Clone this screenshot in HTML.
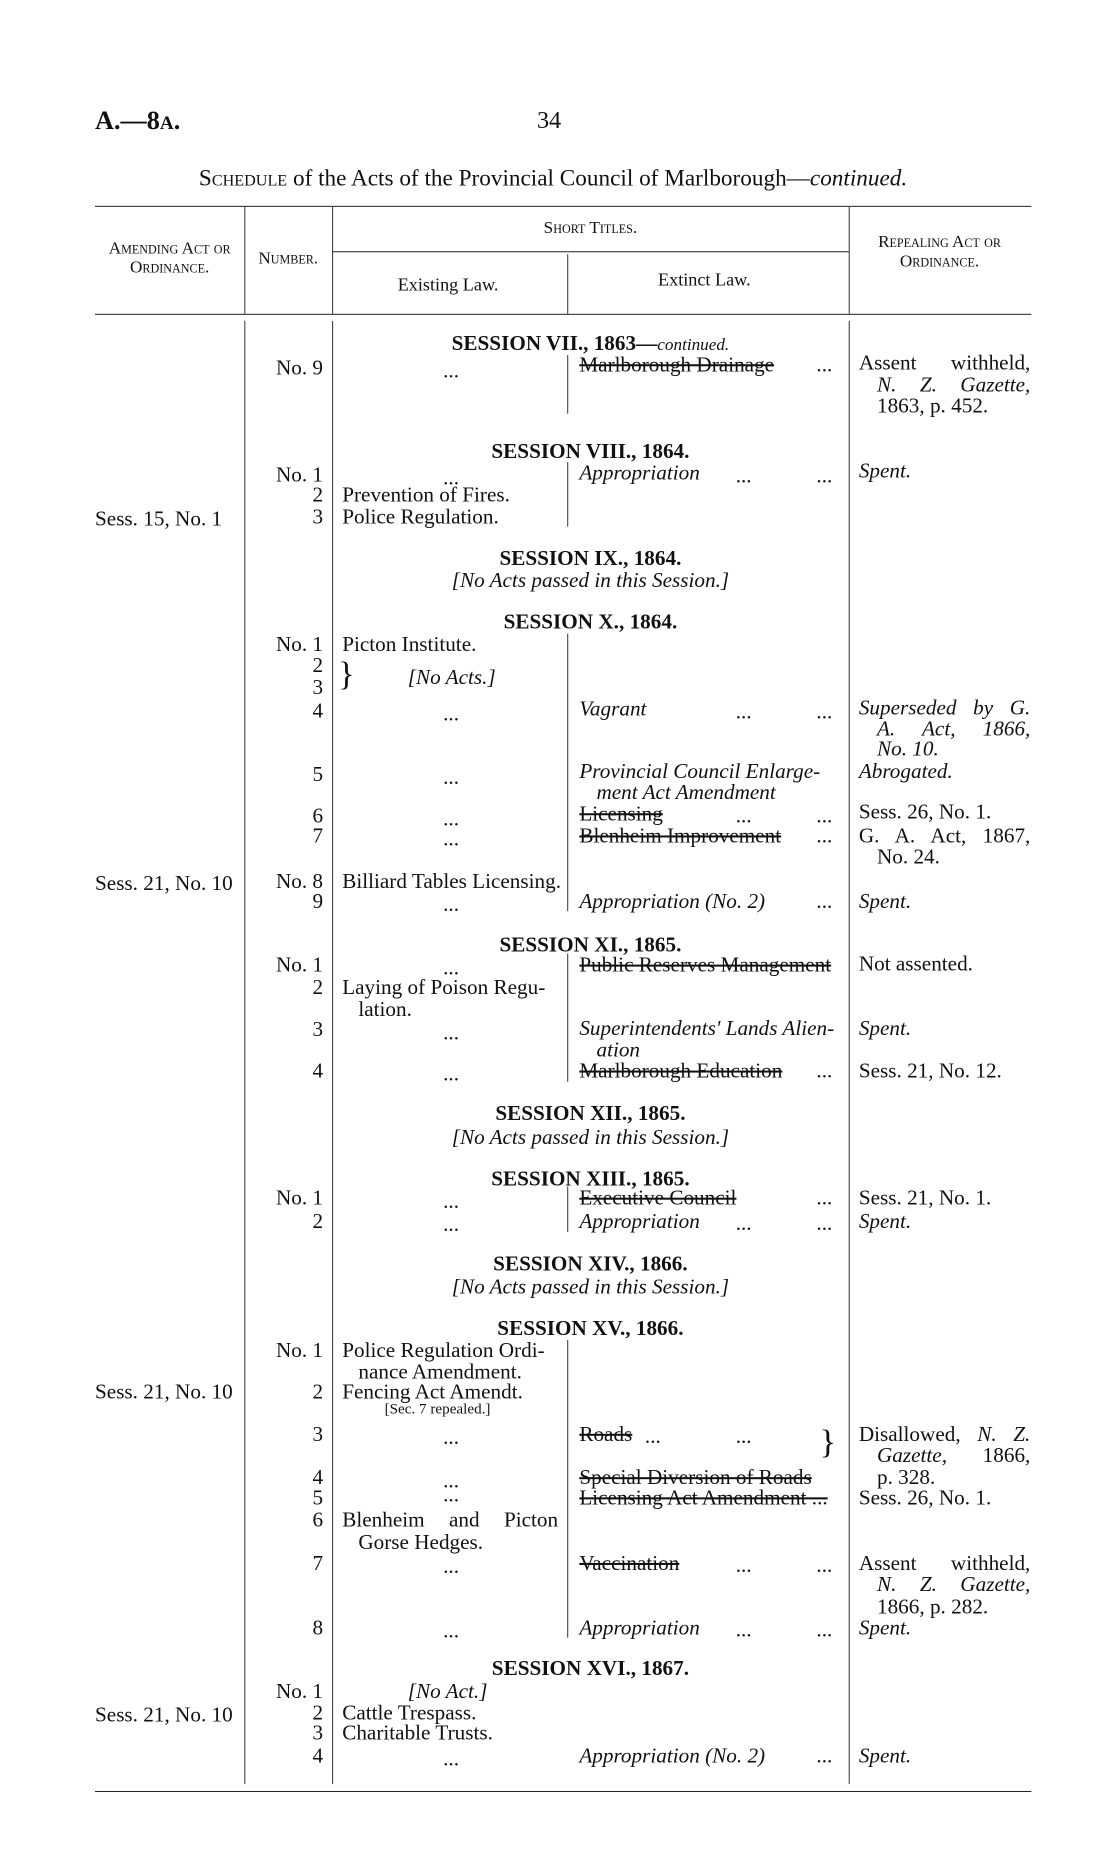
<!DOCTYPE html>
<html><head><meta charset="utf-8"><style>
body{margin:0;background:#fff;}
#w{position:relative;width:1114px;height:1875px;overflow:hidden}
#p{position:absolute;left:0;top:0;width:1114px;height:1875px;font-family:"Liberation Serif",serif;color:#111;font-size:21px;transform:scale(1.009);transform-origin:95px 0}
#p div{position:absolute;white-space:nowrap;line-height:22px}
.h{height:0;border-top:1.5px solid #222}
.v{width:0;border-left:1px solid #333}
.n{right:793px;text-align:right}
.e{left:340px}
.x{left:575px}
.r{left:852px}
.i{font-style:italic}
.s{text-decoration:line-through}
.b{font-weight:bold;left:330px;width:512px;text-align:center}
.c{left:330px;width:512px;text-align:center;font-style:italic}
.sc{font-variant:small-caps;font-size:17px;text-align:center;line-height:19px!important}
.d1{left:440px}
.d2{left:810px}
.dm{left:730px}
.j{width:170px;text-align:justify;text-align-last:justify}
</style></head><body><div id="w"><div id="p">
<div style="left:95px;top:109px;font-size:26px;font-weight:bold">A.—8<span style="font-size:19px">A</span>.</div>
<div style="left:533px;top:109px;font-size:24px">34</div>
<div style="left:198px;top:166px;font-size:23px"><span style="font-variant:small-caps">Schedule</span> of the Acts of the Provincial Council of Marlborough—<i>continued.</i></div>
<div class="h" style="left:95px;top:204px;width:928px"></div>
<div class="h" style="left:330px;top:249px;width:512px;border-top-width:1px"></div>
<div class="h" style="left:95px;top:311px;width:928px"></div>
<div class="h" style="left:95px;top:1775px;width:928px"></div>
<div class="v" style="left:243px;top:205px;height:106px"></div>
<div class="v" style="left:330px;top:205px;height:106px"></div>
<div class="v" style="left:842px;top:205px;height:106px"></div>
<div class="v" style="left:563px;top:252px;height:59px"></div>
<div class="v" style="left:243px;top:318px;height:1450px"></div>
<div class="v" style="left:330px;top:318px;height:1450px"></div>
<div class="v" style="left:842px;top:318px;height:1450px"></div>
<div class="v" style="left:563px;top:352px;height:58px"></div>
<div class="v" style="left:563px;top:458px;height:64px"></div>
<div class="v" style="left:563px;top:628px;height:275px"></div>
<div class="v" style="left:563px;top:945px;height:127px"></div>
<div class="v" style="left:563px;top:1176px;height:45px"></div>
<div class="v" style="left:563px;top:1328px;height:295px"></div>
<div class="sc" style="left:95px;top:236px;width:148px">Amending Act or<br>Ordinance.</div>
<div class="sc" style="left:243px;top:246px;width:87px">Number.</div>
<div class="sc" style="left:330px;top:216px;width:512px">Short Titles.</div>
<div class="sc" style="left:842px;top:230px;width:180px">Repealing Act or<br>Ordinance.</div>
<div style="left:395px;top:271px;font-size:18px">Existing Law.</div>
<div style="left:653px;top:266px;font-size:18px">Extinct Law.</div>

<div class="b" style="top:329px">SESSION VII., 1863—<i style="font-weight:normal;font-size:17px">continued.</i></div>
<div class="n" style="top:353px">No. 9</div><div class="d1" style="top:356px">...</div>
<div class="x s" style="top:350px">Marlborough Drainage</div><div class="d2" style="top:350px">...</div>
<div class="r j" style="top:348px">Assent withheld,</div>
<div class="r i j" style="top:370px;left:870px;width:152px">N. Z. Gazette,</div>
<div class="r" style="top:391px;left:870px">1863, p. 452.</div>

<div class="b" style="top:436px">SESSION VIII., 1864.</div>
<div class="n" style="top:459px">No. 1</div><div class="d1" style="top:462px">...</div>
<div class="x i" style="top:457px">Appropriation</div><div class="dm" style="top:460px">...</div><div class="d2" style="top:460px">...</div>
<div class="r i" style="top:455px">Spent.</div>
<div class="n" style="top:479px">2</div><div class="e" style="top:479px">Prevention of Fires.</div>
<div class="n" style="top:501px">3</div><div class="e" style="top:501px">Police Regulation.</div>
<div style="left:95px;top:503px">Sess. 15, No. 1</div>

<div class="b" style="top:542px">SESSION IX., 1864.</div>
<div class="c" style="top:564px">[No Acts passed in this Session.]</div>

<div class="b" style="top:605px">SESSION X., 1864.</div>
<div class="n" style="top:627px">No. 1</div><div class="e" style="top:627px">Picton Institute.</div>
<div class="n" style="top:648px">2</div><div class="n" style="top:670px">3</div>
<div style="left:336px;top:647px;font-size:34px;line-height:44px">}</div>
<div class="e i" style="left:405px;top:660px">[No Acts.]</div>
<div class="n" style="top:693px">4</div><div class="d1" style="top:696px">...</div>
<div class="x i" style="top:691px">Vagrant</div><div class="dm" style="top:694px">...</div><div class="d2" style="top:694px">...</div>
<div class="r i j" style="top:690px">Superseded by G.</div>
<div class="r i j" style="top:711px;left:870px;width:152px">A. Act, 1866,</div>
<div class="r i" style="top:731px;left:870px">No. 10.</div>
<div class="n" style="top:756px">5</div><div class="d1" style="top:759px">...</div>
<div class="x i" style="top:753px">Provincial Council Enlarge-</div>
<div class="x i" style="top:774px;left:592px">ment Act Amendment</div>
<div class="r i" style="top:753px">Abrogated.</div>
<div class="n" style="top:797px">6</div><div class="d1" style="top:800px">...</div>
<div class="x s" style="top:795px">Licensing</div><div class="dm" style="top:797px">...</div><div class="d2" style="top:797px">...</div>
<div class="r" style="top:793px">Sess. 26, No. 1.</div>
<div class="n" style="top:817px">7</div><div class="d1" style="top:820px">...</div>
<div class="x s" style="top:817px">Blenheim Improvement</div><div class="d2" style="top:817px">...</div>
<div class="r j" style="top:817px">G. A. Act, 1867,</div>
<div class="r" style="top:838px;left:870px">No. 24.</div>
<div class="n" style="top:862px">No. 8</div><div class="e" style="top:862px">Billiard Tables Licensing.</div>
<div style="left:95px;top:864px">Sess. 21, No. 10</div>
<div class="n" style="top:882px">9</div><div class="d1" style="top:885px">...</div>
<div class="x i" style="top:882px">Appropriation (No. 2)</div><div class="d2" style="top:882px">...</div>
<div class="r i" style="top:882px">Spent.</div>

<div class="b" style="top:925px">SESSION XI., 1865.</div>
<div class="n" style="top:945px">No. 1</div><div class="d1" style="top:948px">...</div>
<div class="x s" style="top:945px">Public Reserves Management</div>
<div class="r" style="top:944px">Not assented.</div>
<div class="n" style="top:967px">2</div><div class="e" style="top:967px">Laying of Poison Regu-</div>
<div class="e" style="top:989px;left:356px">lation.</div>
<div class="n" style="top:1009px">3</div><div class="d1" style="top:1012px">...</div>
<div class="x i" style="top:1008px">Superintendents' Lands Alien-</div>
<div class="x i" style="top:1029px;left:592px">ation</div>
<div class="r i" style="top:1008px">Spent.</div>
<div class="n" style="top:1050px">4</div><div class="d1" style="top:1053px">...</div>
<div class="x s" style="top:1050px">Marlborough Education</div><div class="d2" style="top:1050px">...</div>
<div class="r" style="top:1050px">Sess. 21, No. 12.</div>

<div class="b" style="top:1092px">SESSION XII., 1865.</div>
<div class="c" style="top:1116px">[No Acts passed in this Session.]</div>

<div class="b" style="top:1157px">SESSION XIII., 1865.</div>
<div class="n" style="top:1176px">No. 1</div><div class="d1" style="top:1179px">...</div>
<div class="x s" style="top:1176px">Executive Council</div><div class="d2" style="top:1176px">...</div>
<div class="r" style="top:1176px">Sess. 21, No. 1.</div>
<div class="n" style="top:1199px">2</div><div class="d1" style="top:1202px">...</div>
<div class="x i" style="top:1199px">Appropriation</div><div class="dm" style="top:1201px">...</div><div class="d2" style="top:1201px">...</div>
<div class="r i" style="top:1199px">Spent.</div>

<div class="b" style="top:1241px">SESSION XIV., 1866.</div>
<div class="c" style="top:1264px">[No Acts passed in this Session.]</div>

<div class="b" style="top:1305px">SESSION XV., 1866.</div>
<div class="n" style="top:1327px">No. 1</div><div class="e" style="top:1327px">Police Regulation Ordi-</div>
<div class="e" style="top:1348px;left:356px">nance Amendment.</div>
<div class="n" style="top:1368px">2</div><div class="e" style="top:1368px">Fencing Act Amendt.</div>
<div style="left:95px;top:1368px">Sess. 21, No. 10</div>
<div style="left:382px;top:1389px;font-size:15px;line-height:16px">[Sec. 7 repealed.]</div>
<div class="n" style="top:1410px">3</div><div class="d1" style="top:1413px">...</div>
<div class="x s" style="top:1410px">Roads</div><div style="left:640px;top:1412px">...</div><div class="dm" style="top:1412px">...</div>
<div style="left:813px;top:1408px;font-size:34px;line-height:44px">}</div>
<div class="r j" style="top:1410px">Disallowed, <i>N. Z.</i></div>
<div class="r i j" style="top:1431px;left:870px;width:152px">Gazette, <span style="font-style:normal">1866,</span></div>
<div class="r" style="top:1453px;left:870px">p. 328.</div>
<div class="n" style="top:1453px">4</div><div class="d1" style="top:1456px">...</div>
<div class="x s" style="top:1453px">Special Diversion of Roads</div>
<div class="n" style="top:1473px">5</div><div class="d1" style="top:1470px">...</div>
<div class="x s" style="top:1473px">Licensing Act Amendment ...</div>
<div class="r" style="top:1473px">Sess. 26, No. 1.</div>
<div class="n" style="top:1495px">6</div><div class="e j" style="top:1495px;width:214px">Blenheim and Picton</div>
<div class="e" style="top:1517px;left:356px">Gorse Hedges.</div>
<div class="n" style="top:1538px">7</div><div class="d1" style="top:1541px">...</div>
<div class="x s" style="top:1538px">Vaccination</div><div class="dm" style="top:1540px">...</div><div class="d2" style="top:1540px">...</div>
<div class="r j" style="top:1538px">Assent withheld,</div>
<div class="r i j" style="top:1559px;left:870px;width:152px">N. Z. Gazette,</div>
<div class="r" style="top:1581px;left:870px">1866, p. 282.</div>
<div class="n" style="top:1602px">8</div><div class="d1" style="top:1605px">...</div>
<div class="x i" style="top:1602px">Appropriation</div><div class="dm" style="top:1604px">...</div><div class="d2" style="top:1604px">...</div>
<div class="r i" style="top:1602px">Spent.</div>

<div class="b" style="top:1642px">SESSION XVI., 1867.</div>
<div class="n" style="top:1665px">No. 1</div><div class="e i" style="left:405px;top:1665px">[No Act.]</div>
<div class="n" style="top:1686px">2</div><div class="e" style="top:1686px">Cattle Trespass.</div>
<div style="left:95px;top:1688px">Sess. 21, No. 10</div>
<div class="n" style="top:1706px">3</div><div class="e" style="top:1706px">Charitable Trusts.</div>
<div class="n" style="top:1729px">4</div><div class="d1" style="top:1732px">...</div>
<div class="x i" style="top:1729px">Appropriation (No. 2)</div><div class="d2" style="top:1729px">...</div>
<div class="r i" style="top:1729px">Spent.</div>
</div></div></body></html>
